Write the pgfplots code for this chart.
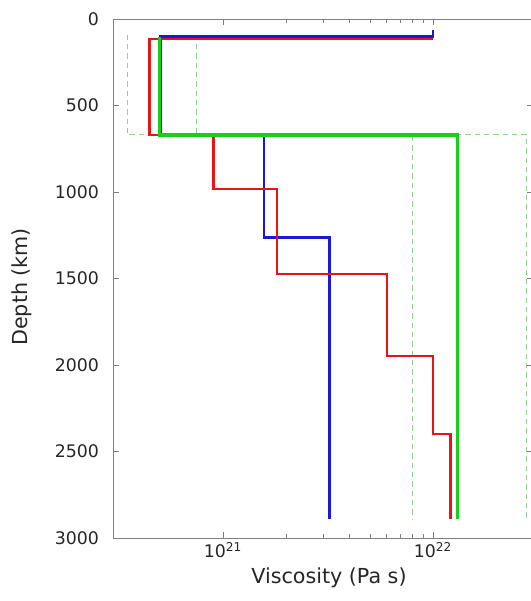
\documentclass[border=0pt]{standalone}
\usepackage{pgfplots}
\pgfplotsset{compat=1.18}
\usepackage{fontspec}
\setmainfont{DejaVu Sans}
\definecolor{cred}{RGB}{235,20,20}
\definecolor{cblue}{RGB}{25,25,220}
\definecolor{cgreen}{RGB}{20,210,20}
\definecolor{cdash}{RGB}{140,215,140}
\begin{document}
\begin{tikzpicture}
\path[use as bounding box] (-84.75pt,-47.25pt) rectangle (313.5pt,403.5pt);
\begin{axis}[
  at={(0,0)}, anchor=south west,
  scale only axis,
  width=315pt, height=389.25pt,
  xmode=log,
  xmin=3e20, xmax=3e22,
  ymin=0, ymax=3000,
  y dir=reverse,
  ytick={0,500,1000,1500,2000,2500,3000},
  xtick={1e21,1e22},
  xticklabels={10\textsuperscript{21},10\textsuperscript{22}},
  /pgf/number format/assume math mode=true,
  /pgf/number format/1000 sep={},
  ticklabel style={font=\fontsize{13}{15}\selectfont, text=black!85},
  yticklabel style={xshift=-7pt},
  axis line style={color=black!50},
  tick style={color=black!50},
  xlabel={Viscosity (Pa s)},
  ylabel={Depth (km)},
  every axis x label/.style={at={(axis description cs:0.514,-0.077)}, anchor=center, font=\fontsize{15.5}{18}\selectfont, text=black!85},
  every axis y label/.style={at={(axis description cs:-0.217,0.484)}, anchor=center, rotate=90, font=\fontsize{15.5}{18}\selectfont, text=black!85},
  clip=false,
]
% bounds (dashed)
\addplot[cdash, line width=0.8pt, dash pattern=on 4pt off 3pt] coordinates {
  (3.5e20,90) (3.5e20,670) (2.8e22,670) (2.8e22,2890)};
\addplot[cdash, line width=0.8pt, dash pattern=on 4pt off 3pt] coordinates {
  (7.5e20,90) (7.5e20,670) (8e21,670) (8e21,2890)};
% blue model
\addplot[cblue, line width=2pt] coordinates {
  (1e22,65) (1e22,100) (5.05e20,100) (5.05e20,670) (1.57e21,670)
  (1.57e21,1262) (3.22e21,1262) (3.22e21,2890)};
% red model
\addplot[cred, line width=2pt] coordinates {
  (1e22,116) (4.48e20,116) (4.48e20,670) (9.0e20,670) (9.0e20,983)
  (1.81e21,983) (1.81e21,1474) (6.04e21,1474) (6.04e21,1948)
  (1e22,1948) (1e22,2399) (1.21e22,2399) (1.21e22,2890)};
% green model
\addplot[cgreen, line width=2.4pt] coordinates {
  (5.0e20,105) (5.0e20,670) (1.31e22,670) (1.31e22,2890)};
\end{axis}
\end{tikzpicture}
\end{document}
